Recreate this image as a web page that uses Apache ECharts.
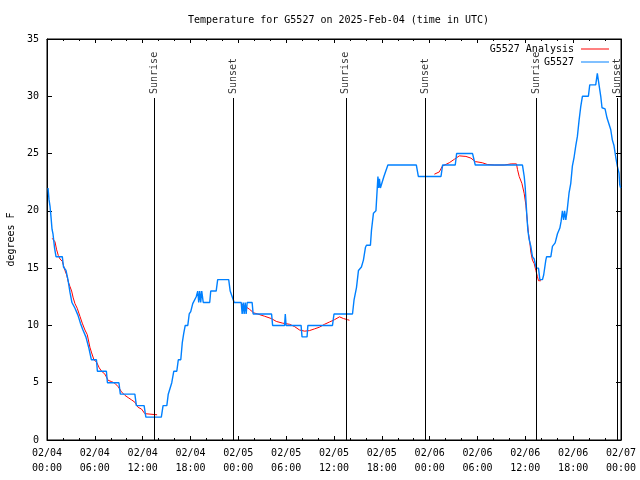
<!DOCTYPE html>
<html><head><meta charset="utf-8">
<script src="https://cdn.jsdelivr.net/npm/echarts/dist/echarts.min.js"></script>
<style>html,body{margin:0;padding:0;background:#fff}#c{width:640px;height:480px}</style>
</head><body><div id="c"></div>
<script>
const titleText = 'Temperature for G5527 on 2025-Feb-04 (time in UTC)';
const yAxisName = 'degrees F';
const xTickLabels = ['02/04\n00:00','02/04\n06:00','02/04\n12:00','02/04\n18:00','02/05\n00:00','02/05\n06:00','02/05\n12:00','02/05\n18:00','02/06\n00:00','02/06\n06:00','02/06\n12:00','02/06\n18:00','02/07\n00:00'];
const obsName = 'G5527';
const anaName = 'G5527 Analysis';
// hours since 02/04 00:00 UTC, temperature (F)
const obsPoints = [[0.13,22.0],[0.25,21.0],[0.38,20.4],[0.50,19.5],[0.63,18.4],[0.75,18.0],[0.94,16.8],[1.13,16.0],[1.92,16.0],[2.07,15.1],[2.38,14.8],[2.63,14.0],[2.88,12.9],[3.13,12.0],[3.51,11.5],[3.88,10.9],[4.19,10.2],[4.51,9.6],[4.88,9.0],[5.26,8.0],[5.57,7.0],[6.20,7.0],[6.32,6.0],[7.45,6.0],[7.58,5.0],[9.02,5.0],[9.20,4.0],[11.02,4.0],[11.21,3.0],[12.18,3.0],[12.40,2.0],[14.34,2.0],[14.56,3.0],[15.03,3.0],[15.21,4.0],[15.46,4.0],[15.65,5.0],[15.90,6.0],[16.28,6.0],[16.47,7.0],[16.78,7.0],[16.97,8.5],[17.15,9.3],[17.34,10.0],[17.66,10.0],[17.84,11.0],[18.03,11.2],[18.28,11.9],[18.53,12.0],[18.72,12.5],[18.91,13.0],[19.03,12.0],[19.16,13.0],[19.28,12.0],[19.41,13.0],[19.60,12.0],[20.41,12.0],[20.54,13.0],[21.22,13.0],[21.41,14.0],[22.79,14.0],[22.98,13.0],[23.23,12.5],[23.48,12.0],[24.36,12.0],[24.48,11.0],[24.61,12.0],[24.73,11.0],[24.86,12.0],[24.98,11.0],[25.11,12.0],[25.73,12.0],[25.86,11.0],[28.17,11.0],[28.30,10.0],[29.80,10.0],[29.89,11.0],[29.99,10.0],[31.87,10.0],[31.99,9.0],[32.62,9.0],[32.72,10.0],[35.81,10.0],[36.00,11.0],[38.32,11.0],[38.51,12.2],[38.82,13.3],[39.07,14.8],[39.44,15.1],[39.69,15.7],[39.94,16.8],[40.07,17.0],[40.57,17.0],[40.70,18.3],[40.95,19.8],[41.26,20.0],[41.51,23.0],[41.61,22.0],[41.70,22.8],[41.82,22.0],[42.07,22.0],[42.26,23.0],[42.51,23.0],[42.76,24.0],[46.33,24.0],[46.58,23.0],[49.42,23.0],[49.62,24.0],[51.21,24.0],[51.38,25.0],[53.38,25.0],[53.72,24.0],[59.64,24.0],[59.86,23.0],[59.98,22.1],[60.17,19.8],[60.32,18.3],[60.48,17.5],[60.69,16.9],[60.89,16.0],[61.11,15.8],[61.36,15.0],[61.65,15.0],[61.82,14.0],[62.15,14.0],[62.30,14.4],[62.57,15.7],[62.67,16.0],[63.20,16.0],[63.40,16.9],[63.74,17.2],[64.03,18.0],[64.33,18.5],[64.49,19.1],[64.65,20.0],[64.80,19.2],[64.93,20.0],[65.08,19.2],[65.24,20.0],[65.49,21.6],[65.70,22.4],[65.90,23.9],[66.12,24.7],[66.33,25.7],[66.53,26.5],[66.74,27.9],[66.95,29.1],[67.16,30.0],[67.91,30.0],[68.08,31.0],[68.83,31.0],[69.03,32.0],[69.25,32.0],[69.46,30.0],[69.62,29.0],[70.00,28.9],[70.25,28.1],[70.50,28.0],[70.71,27.1],[70.91,26.2],[71.12,25.7],[71.34,24.7],[71.54,23.9],[71.75,23.3],[71.84,22.3],[71.95,22.0]];
const anaSeg1 = [[0.66,17.6],[1.00,17.3],[1.21,16.6],[1.42,16.1],[1.63,15.8],[1.92,15.6],[2.25,14.8],[2.47,14.4],[2.67,13.8],[2.88,13.4],[3.09,13.0],[3.29,12.4],[3.51,11.9],[3.79,11.5],[4.13,10.8],[4.42,10.2],[4.76,9.6],[5.05,9.2],[5.38,8.1],[5.60,7.6],[5.89,7.0],[6.22,6.8],[6.55,6.3],[6.85,6.0],[7.26,5.75],[7.68,5.2],[8.10,5.1],[8.51,4.95],[8.93,4.65],[9.35,4.2],[9.77,3.9],[10.18,3.7],[10.61,3.5],[11.02,3.3],[11.43,2.85],[11.86,2.7],[12.27,2.3],[12.48,2.2],[13.81,2.2]];
const anaSeg2 = [[24.38,11.85],[24.79,11.7],[25.42,11.4],[25.92,11.1],[26.42,11.0],[27.30,10.8],[28.14,10.6],[28.76,10.35],[29.55,10.2],[30.43,10.1],[31.05,9.9],[31.68,9.6],[32.31,9.5],[32.93,9.55],[33.56,9.7],[34.18,9.85],[34.81,10.1],[35.44,10.3],[36.06,10.5],[36.69,10.75],[37.19,10.6],[37.69,10.5],[37.94,10.45]];
const anaSeg3 = [[48.59,23.2],[49.21,23.4],[49.59,23.9],[50.46,24.2],[51.09,24.5],[51.72,24.8],[52.55,24.75],[53.18,24.6],[53.72,24.3],[54.60,24.2],[55.22,24.05],[56.10,24.0],[57.35,24.0],[58.23,24.1],[58.89,24.1],[59.02,23.6],[59.23,23.0],[59.57,22.4],[59.86,21.5],[60.07,20.5],[60.27,18.9],[60.40,18.0],[60.57,17.2],[60.69,16.4],[60.89,15.7],[61.11,15.4],[61.32,14.8],[61.52,14.25],[61.65,13.9],[61.95,13.9]];
const sunriseHours = [13.44, 37.48, 61.40];
const sunsetHours = [23.35, 47.42, 71.50];
const sunLineTop = 29.85;
const sunLabelBase = 30.2;

const FONT = 'DejaVu Sans Mono';
const anaData = anaSeg1.concat([[13.9,'-']], anaSeg2, [[38.0,'-']], anaSeg3);
const sunEvents = sunriseHours.map(h => ({h, name:'Sunrise'})).concat(sunsetHours.map(h => ({h, name:'Sunset'})));

const chart = echarts.init(document.getElementById('c'), null, {renderer:'canvas'});
const txt = {fontFamily: FONT, fontSize: 10, color: '#000'};
const legendBase = {orient:'horizontal', align:'right', icon:'rect', itemWidth:28, itemHeight:1, selectedMode:false,
  textStyle:Object.assign({}, txt, {padding:[0,2,0,0]}), padding:0};
chart.setOption({
  animation:false,
  backgroundColor:'#fff',
  title:{text:titleText, left:183, top:9, textStyle:Object.assign({}, txt, {fontWeight:'normal', lineHeight:12})},
  legend:[
    Object.assign({}, legendBase, {data:[anaName], right:31, top:44}),
    Object.assign({}, legendBase, {data:[obsName], right:31, top:57})
  ],
  grid:{left:47, right:19, top:39, bottom:40, show:true, borderColor:'#000', borderWidth:1, backgroundColor:'transparent', containLabel:false, outerBoundsMode:'none'},
  xAxis:[{
    type:'value', min:0, max:72, interval:6, position:'bottom',
    axisLine:{show:true, onZero:false, lineStyle:{color:'#000', width:1}},
    axisTick:{show:true, inside:true, length:4, lineStyle:{color:'#000'}},
    minorTick:{show:true, splitNumber:3, length:2, lineStyle:{color:'#000'}},
    splitLine:{show:false}, minorSplitLine:{show:false},
    axisLabel:Object.assign({}, txt, {margin:6, lineHeight:15, formatter:v => xTickLabels[Math.round(v/6)]})
  },{
    type:'value', min:0, max:72, interval:6, position:'top',
    axisLine:{show:true, onZero:false, lineStyle:{color:'#000', width:1}},
    axisTick:{show:true, inside:true, length:4, lineStyle:{color:'#000'}},
    minorTick:{show:true, splitNumber:3, length:2, lineStyle:{color:'#000'}},
    splitLine:{show:false}, axisLabel:{show:false}
  }],
  yAxis:[{
    type:'value', min:0, max:35, interval:5, position:'left',
    name:yAxisName, nameLocation:'middle', nameRotate:90, nameGap:31, nameTextStyle:txt,
    axisLine:{show:true, onZero:false, lineStyle:{color:'#000', width:1}},
    axisTick:{show:true, inside:true, length:5, lineStyle:{color:'#000'}},
    splitLine:{show:false},
    axisLabel:Object.assign({}, txt, {margin:8})
  },{
    type:'value', min:0, max:35, interval:5, position:'right',
    axisLine:{show:true, onZero:false, lineStyle:{color:'#000', width:1}},
    axisTick:{show:true, inside:true, length:5, lineStyle:{color:'#000'}},
    splitLine:{show:false}, axisLabel:{show:false}
  }],
  series:[
    {name:anaName, type:'line', data:anaData, symbol:'none', showSymbol:false, connectNulls:false,
     color:'#ff0000', lineStyle:{color:'#ff0000', width:1}, z:2, silent:true},
    {name:obsName, type:'line', data:obsPoints, symbol:'none', showSymbol:false,
     color:'#0080ff', lineStyle:{color:'#0080ff', width:1.4}, z:3, silent:true,
     markLine:{symbol:['none','none'], silent:true, animation:false, label:{show:false},
       lineStyle:{color:'#000', width:1, type:'solid'},
       data:sunEvents.map(e => [{coord:[e.h,0]},{coord:[e.h,sunLineTop]}])}},
    {type:'scatter', data:sunEvents.map(e => [e.h, sunLabelBase, e.name]), symbolSize:0, silent:true, z:4,
     itemStyle:{color:'transparent'},
     label:Object.assign({show:true, position:[0,0], rotate:90, align:'left', verticalAlign:'middle',
       formatter:p => p.value[2]}, txt)}
  ]
});
</script></body></html>
